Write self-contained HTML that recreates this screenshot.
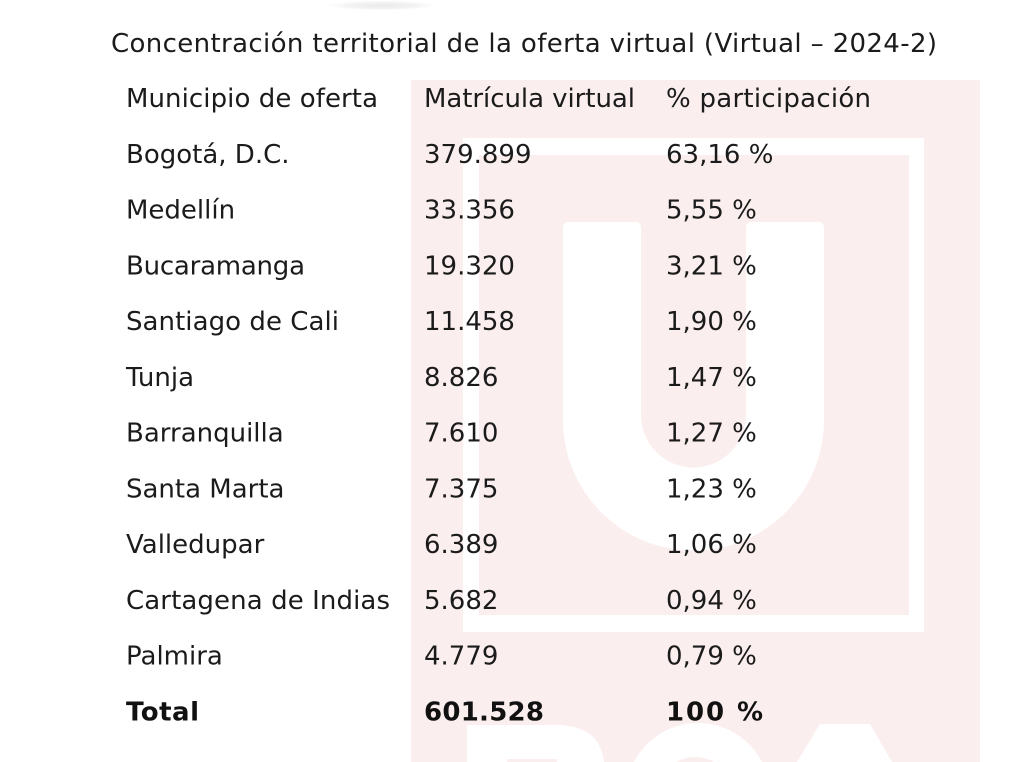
<!DOCTYPE html>
<html>
<head>
<meta charset="utf-8">
<style>
  html,body{margin:0;padding:0;background:#ffffff;width:1024px;height:762px;overflow:hidden;}
  svg{display:block;}
  text{font-family:"DejaVu Sans","Liberation Sans",sans-serif;fill:#1b1b1b;font-size:26px;}
  .b{font-weight:bold;fill:#111;}
</style>
</head>
<body>
<svg width="1024" height="762" viewBox="0 0 1024 762" xmlns="http://www.w3.org/2000/svg">
  <defs>
    <radialGradient id="blur" cx="0.5" cy="0.5" r="0.5">
      <stop offset="0" stop-color="#eaeaea"/>
      <stop offset="0.6" stop-color="#f4f4f4"/>
      <stop offset="1" stop-color="#ffffff" stop-opacity="0"/>
    </radialGradient>
  </defs>
  <rect x="0" y="0" width="1024" height="762" fill="#ffffff"/>
  <!-- top blur -->
  <path d="M320,0 A62,11 0 0 0 444,0 Z" fill="url(#blur)"/>

  <!-- watermark -->
  <rect x="411" y="80" width="569" height="682" fill="#fbeeee"/>
  <!-- frame -->
  <rect x="463" y="138" width="461" height="494" fill="#ffffff"/>
  <rect x="479" y="155" width="430" height="460" fill="#fbeeee"/>
  <!-- U -->
  <path d="M563,228 Q563,222 569,222 L635,222 Q641,222 641,228 L641,415 A52.5,52.5 0 0 0 746,415 L746,228 Q746,222 752,222 L818,222 Q824,222 824,228 L824,420 A130.5,130.5 0 0 1 563,420 Z" fill="#ffffff"/>
  <!-- bottom letters (partial) -->
  <path d="M467,725 L560,725 Q600,727 604,762 L467,762 Z" fill="#ffffff"/>
  <rect x="507" y="759" width="50" height="3" fill="#fbeeee"/>
  <path d="M634,762 A72,72 0 0 1 762,762 Z" fill="#ffffff"/>
  <path d="M676,762 A39,39 0 0 1 714,762 Z" fill="#fbeeee"/>
  <polygon points="820,724 870,724 892,762 797,762" fill="#ffffff"/>

  <!-- title -->
  <text x="111" y="52" textLength="826" lengthAdjust="spacing">Concentración territorial de la oferta virtual (Virtual – 2024-2)</text>

  <!-- header -->
  <text x="126" y="107" textLength="252" lengthAdjust="spacing">Municipio de oferta</text>
  <text x="424" y="107" textLength="211" lengthAdjust="spacing">Matrícula virtual</text>
  <text x="666" y="107" textLength="205" lengthAdjust="spacing">% participación</text>

  <!-- rows -->
  <text x="126" y="163">Bogotá, D.C.</text>
  <text x="424" y="163">379.899</text>
  <text x="666" y="163">63,16 %</text>

  <text x="126" y="218.5">Medellín</text>
  <text x="424" y="218.5">33.356</text>
  <text x="666" y="218.5">5,55 %</text>

  <text x="126" y="274.3" textLength="179" lengthAdjust="spacing">Bucaramanga</text>
  <text x="424" y="274.3">19.320</text>
  <text x="666" y="274.3">3,21 %</text>

  <text x="126" y="330" textLength="213" lengthAdjust="spacing">Santiago de Cali</text>
  <text x="424" y="330">11.458</text>
  <text x="666" y="330">1,90 %</text>

  <text x="126" y="385.8">Tunja</text>
  <text x="424" y="385.8">8.826</text>
  <text x="666" y="385.8">1,47 %</text>

  <text x="126" y="441.5">Barranquilla</text>
  <text x="424" y="441.5">7.610</text>
  <text x="666" y="441.5">1,27 %</text>

  <text x="126" y="497.3">Santa Marta</text>
  <text x="424" y="497.3">7.375</text>
  <text x="666" y="497.3">1,23 %</text>

  <text x="126" y="553">Valledupar</text>
  <text x="424" y="553">6.389</text>
  <text x="666" y="553">1,06 %</text>

  <text x="126" y="608.8" textLength="264" lengthAdjust="spacing">Cartagena de Indias</text>
  <text x="424" y="608.8">5.682</text>
  <text x="666" y="608.8">0,94 %</text>

  <text x="126" y="664.5">Palmira</text>
  <text x="424" y="664.5">4.779</text>
  <text x="666" y="664.5">0,79 %</text>

  <text class="b" x="126" y="720.3" textLength="73" lengthAdjust="spacing">Total</text>
  <text class="b" x="424" y="720.3" textLength="120" lengthAdjust="spacing">601.528</text>
  <text class="b" x="666" y="720.3" textLength="97" lengthAdjust="spacing">100 %</text>
</svg>
</body>
</html>
